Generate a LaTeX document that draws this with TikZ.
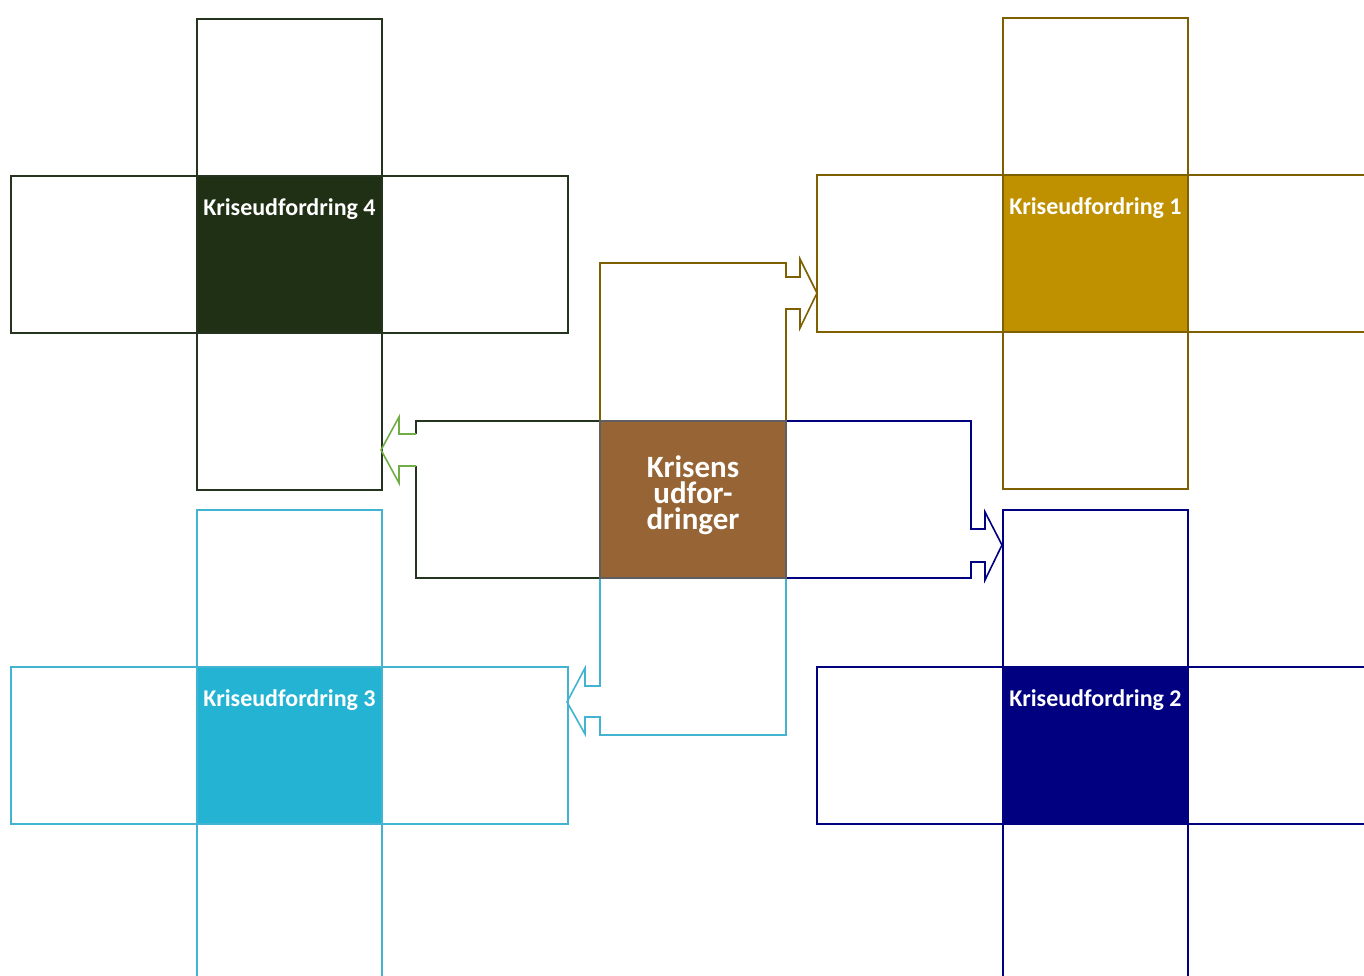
\documentclass[tikz,border=0pt]{standalone}
\usepackage{fontspec}
\setmainfont{Carlito}
\usetikzlibrary{positioning,calc}
\definecolor{goldline}{HTML}{7F6000}
\definecolor{goldfill}{HTML}{BF9000}
\definecolor{greenline}{HTML}{25341F}
\definecolor{greenfill}{HTML}{203015}
\definecolor{cyanline}{HTML}{42B3D0}
\definecolor{cyanfill}{HTML}{24B3D3}
\definecolor{navyline}{HTML}{000080}
\definecolor{navyfill}{HTML}{000080}
\definecolor{centerline}{HTML}{5F5F5F}
\definecolor{centerfill}{HTML}{976535}
\definecolor{headgreen}{HTML}{70AD47}
\begin{document}
\begin{tikzpicture}[x=1pt,y=-1pt,
  cell/.style={rectangle,minimum width=185.5pt,minimum height=157pt,inner sep=0pt,outer sep=0pt,line width=1.6pt},
  lab/.style={text=white,font=\bfseries\fontsize{24}{29}\selectfont,anchor=base,inner sep=0pt},
  arrowline/.style={line width=1.6pt,line join=miter},
  pics/kross/.style n args={3}{code={
    \node[cell,draw=#1] (-t) at (0,-157) {};
    \node[cell,draw=#1] (-b) at (0,157) {};
    \node[cell,draw=#1] (-w) at (-185.5,0) {};
    \node[cell,draw=#1] (-e) at (185.5,0) {};
    \node[cell,draw=#1,fill=#2] (-c) at (0,0) {};
    \node[lab] (-l) at (0,-39) {#3};
  }}]
\clip (0,0) rectangle (1364,976);
\fill[white] (0,0) rectangle (1364,976);

% crosses
\pic (k1) at (1095.5,253.5) {kross={goldline}{goldfill}{Kriseudfordring 1}};
\pic (k2) at (1095.5,745.5) {kross={navyline}{navyfill}{Kriseudfordring 2}};
\pic (k3) at (289.5,745.5) {kross={cyanline}{cyanfill}{Kriseudfordring 3}};
\pic (k4) at (289.5,254.5) {kross={greenline}{greenfill}{Kriseudfordring 4}};

% arrow boxes (placement only)
\node[cell,minimum width=186pt,minimum height=158pt] (topbox) at (693,342) {};
\node[cell,minimum width=185pt] (rightbox) at (878.5,499.5) {};
\node[cell,minimum width=184pt] (leftbox) at (508,499.5) {};
\node[cell,minimum width=186pt] (botbox) at (693,656.5) {};

% gold arrow to Kriseudfordring 1
\draw[arrowline,goldline] (topbox.north west) -- (topbox.north east) -- ++(0,14) -- ++(14,0) -- ++(0,-18)
  -- ++(17,34) -- ++(-17,35) -- ++(0,-19) -- ++(-14,0) -- (topbox.south east) -- (topbox.south west) -- cycle;

% navy arrow to Kriseudfordring 2
\draw[arrowline,navyline] (rightbox.north west) -- (rightbox.north east) -- ++(0,108) -- ++(14,0) -- ++(0,-17)
  -- ++(17,33) -- ++(-17,35) -- ++(0,-18) -- ++(-14,0) -- (rightbox.south east) -- (rightbox.south west) -- cycle;

% cyan arrow to Kriseudfordring 3
\draw[arrowline,cyanline] (botbox.north east) -- (botbox.north west) -- ++(0,108) -- ++(-15,0) -- ++(0,-18)
  -- ++(-18,34) -- ++(18,32) -- ++(0,-17) -- ++(15,0) -- (botbox.south west) -- (botbox.south east) -- cycle;

% green arrow to Kriseudfordring 4
\draw[arrowline,greenline] ($(leftbox.north west)+(0,13)$) -- (leftbox.north west) -- (leftbox.north east)
  -- (leftbox.south east) -- (leftbox.south west) -- ($(leftbox.north west)+(0,45)$);
\draw[arrowline,headgreen] ($(leftbox.north west)+(0,13)$) -- ++(-17,0) -- ++(0,-17) -- ++(-18,33)
  -- ++(18,33) -- ++(0,-17) -- ++(17,0);

% centre
\node[cell,minimum width=186pt,draw=centerline,fill=centerfill] (centre) at (693,499.5) {};
\node[text=white,align=center,inner sep=0pt,font=\bfseries\fontsize{31}{26}\selectfont] (ctext) at (693,495) {Krisens\\udfor-\\dringer};
\end{tikzpicture}
\end{document}
